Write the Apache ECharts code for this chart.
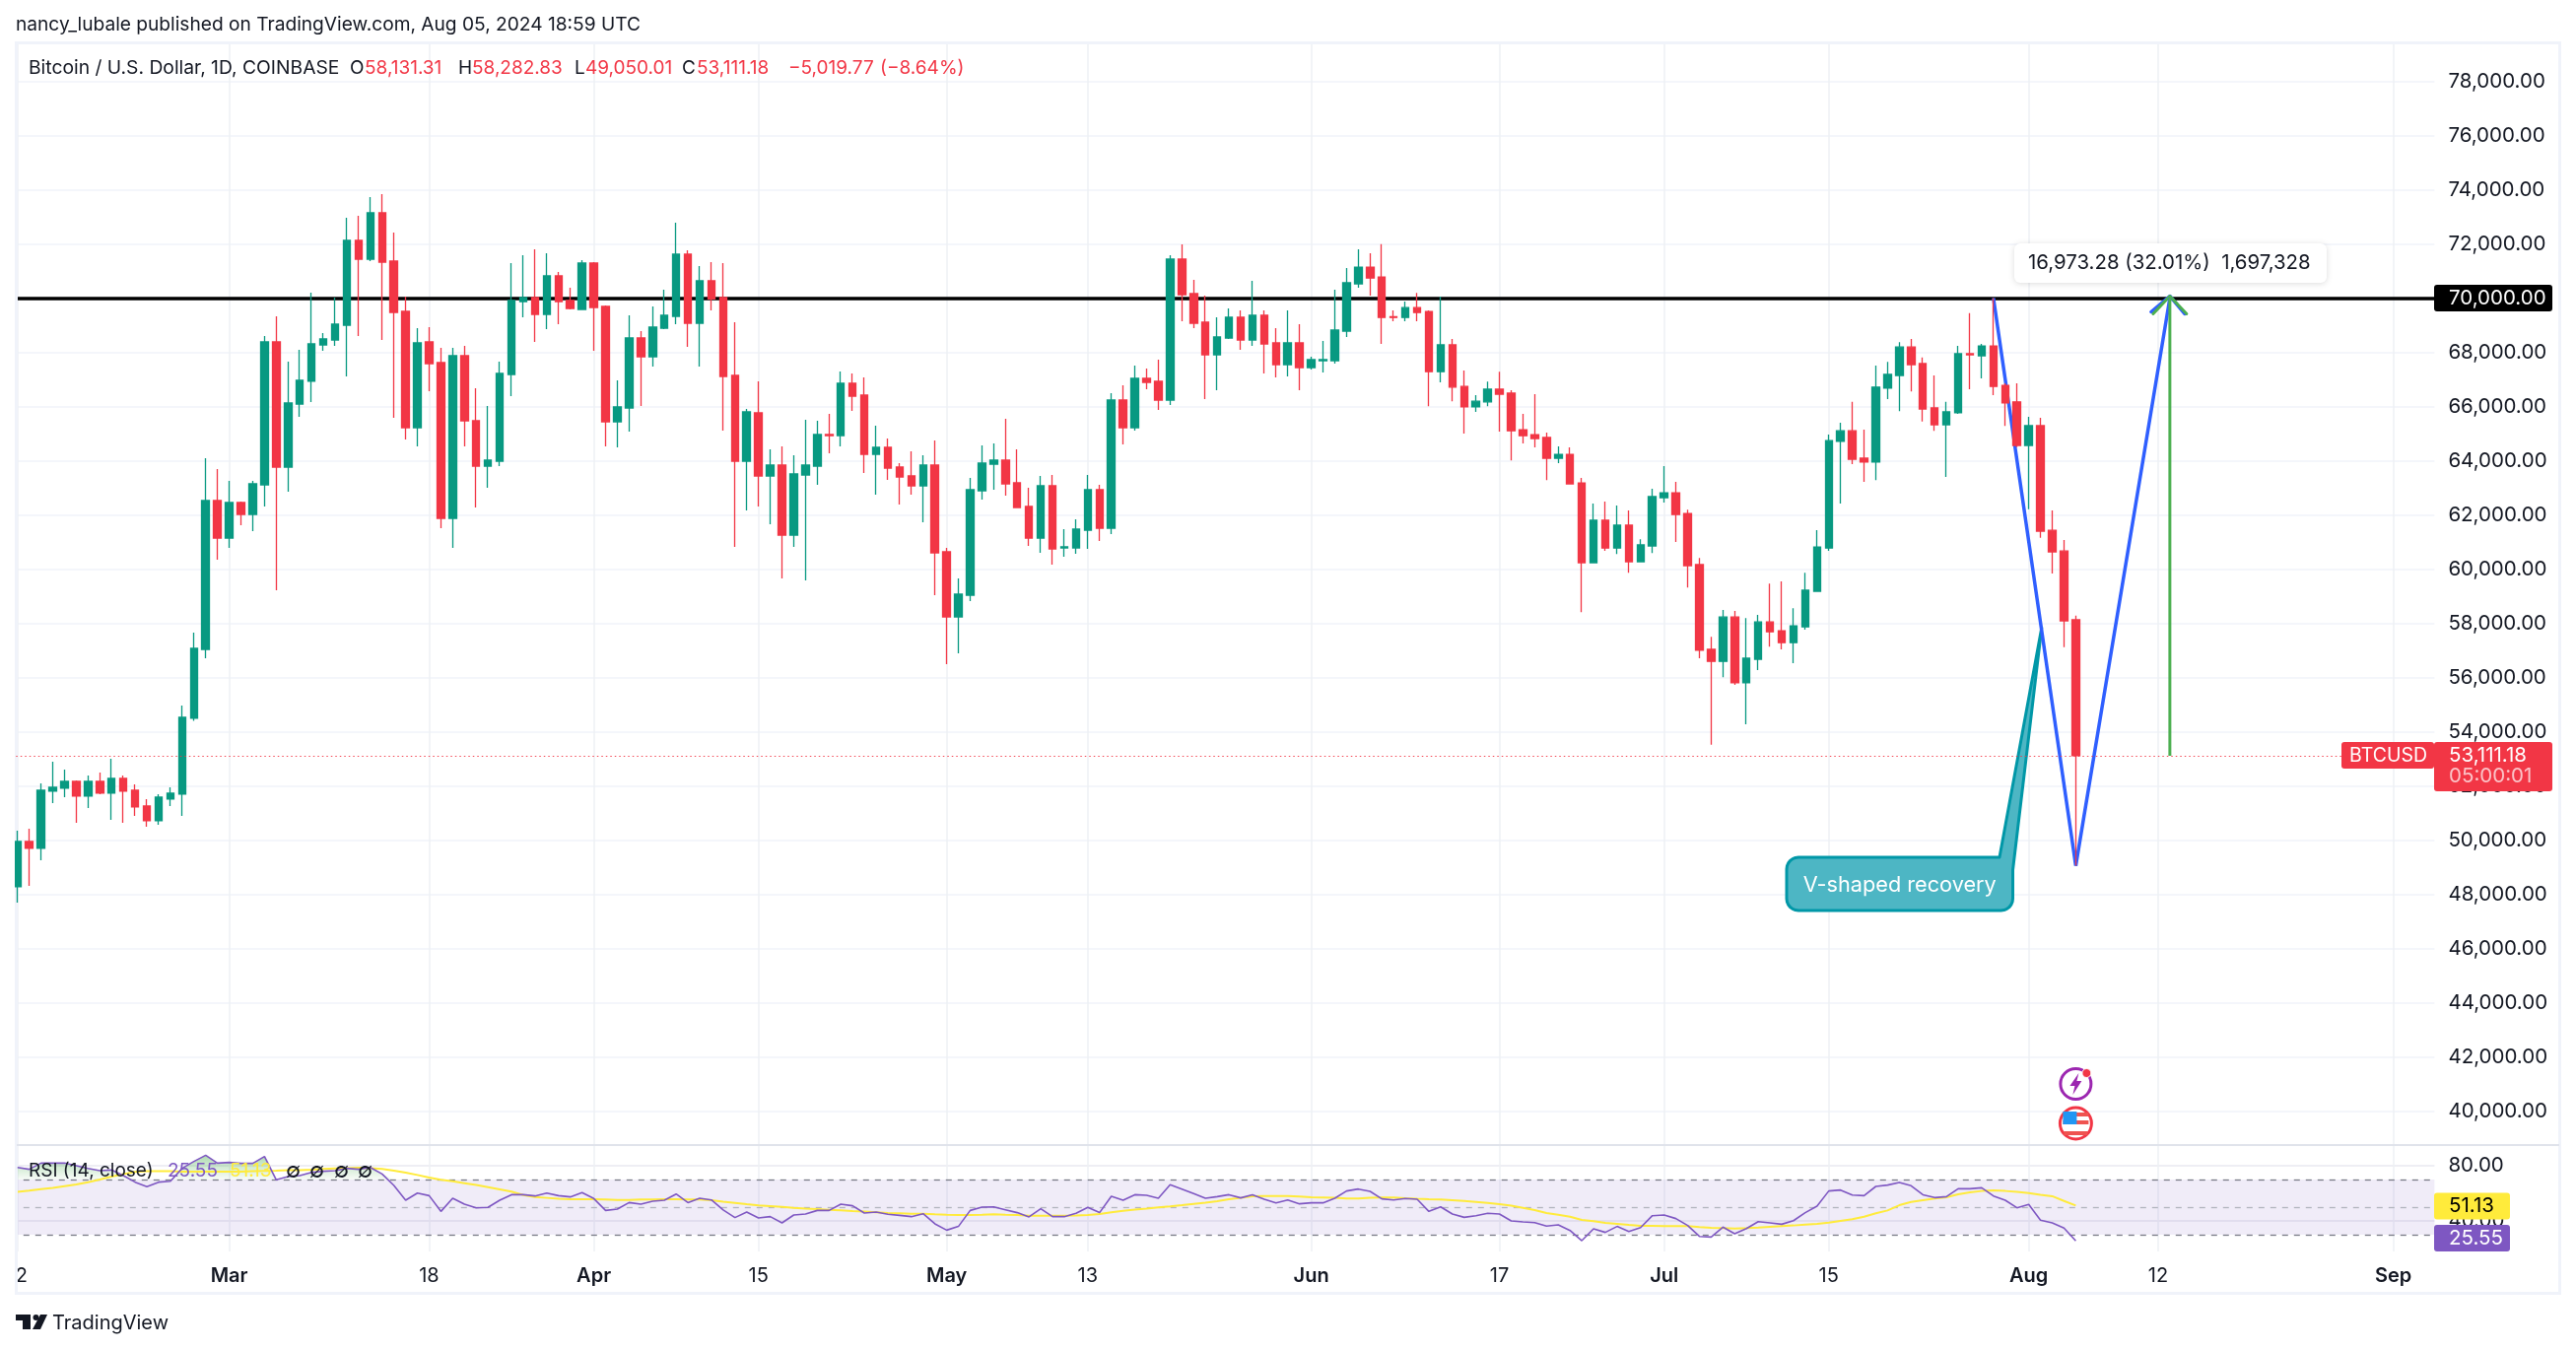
<!DOCTYPE html>
<html><head><meta charset="utf-8">
<style>html,body{margin:0;padding:0;background:#fff}#c{width:2614px;height:1370px}</style>
<script src="https://cdn.jsdelivr.net/npm/echarts@6/dist/echarts.min.js"></script>
</head><body><div id="c"></div>
<script>
const FONT='Inter, "Liberation Sans", sans-serif';
const opens=[48274,49947,49692,51801,51910,52165,51620,52165,51729,52274,51838,51256,50711,51510,51692,54492,57037,62528,61146,62455,62018,63109,68382,63764,66091,66928,68273,68455,69000,72127,71436,73145,71364,69509,65218,68382,67618,61873,67873,65473,63800,63982,67182,69873,70018,69400,70818,69909,69582,71291,69691,65436,65946,68527,67836,68891,69327,71618,69073,70636,70018,67146,63982,65764,63436,63836,61255,63473,63800,64964,64927,66855,66418,64236,64491,63764,63436,63073,63836,60636,58236,59036,62891,63873,64018,63182,62309,61145,63073,60782,60782,61436,62927,61509,66236,65218,67036,66927,66236,71436,70164,69109,67909,68527,69291,68455,69364,68345,67545,68345,67436,67691,67691,68782,70527,71143,70779,69312,69286,69649,69506,67285,68272,66740,65986,66168,66636,66493,65142,64960,64856,64090,64232,63180,60232,61803,60777,61621,60271,60855,62635,62817,62050,60167,57036,56594,58231,55802,56672,58049,57724,57283,57867,59179,60777,64713,65103,64090,63947,66675,67142,68194,67584,65947,65324,65765,67948,67870,68233,66779,66170,64563,65293,61430,60668,58131.31];
const closes=[49947,49692,51838,51947,52165,51620,52165,51729,52274,51801,51220,50711,51583,51729,54528,57073,62528,61146,62455,62018,63146,68382,63764,66128,66964,68309,68491,69036,72127,71436,73145,71327,69473,65218,68346,67582,61873,67873,65473,63800,64018,67218,69909,70018,69400,70818,69873,69618,71291,69655,65436,65982,68527,67836,68927,69364,71618,69073,70636,69970,67109,63982,65800,63436,63836,61255,63509,63836,64964,64927,66855,66382,64236,64491,63727,63400,63073,63836,60600,58236,59073,62927,63909,64018,63145,62273,61145,63073,60745,60818,61473,62927,61509,66236,65218,67036,66891,66236,71436,70127,69073,67909,68564,69291,68455,69364,68309,67545,68345,67436,67727,67727,68818,70564,71143,70740,69286,69286,69649,69467,67285,68272,66714,65986,66194,66636,66454,65103,64921,64817,64090,64232,63141,60232,61803,60777,61621,60271,60894,62674,62817,62011,60128,57003,56594,58231,55802,56711,58049,57685,57283,57906,59218,60816,64739,65103,64051,63947,66714,67181,68194,67545,65908,65324,65804,67948,67909,68233,66740,66129,64563,65293,61398,60635,58087,53111.18];
const lows=[47693,48311,49256,51365,51583,50638,51183,51692,50747,50638,50893,50492,50565,51256,50893,54400,56710,60346,60782,61618,61400,62309,59219,62855,65618,66164,68055,68236,67109,68600,71364,68455,65582,64782,64527,66564,61509,60782,64527,62273,63000,63800,66382,69291,68382,68855,69036,69582,69582,68055,64527,64491,65073,66018,67473,68855,69036,68200,67473,69545,65109,60818,62164,62309,61655,59655,60818,59582,63109,64273,64527,65836,63545,62745,63291,62382,62745,61727,59036,56491,56891,58818,62564,62927,62709,62273,60855,60600,60164,60455,60564,60745,61036,61291,64600,65109,66636,65873,66055,69145,68891,66273,66600,68491,68091,68236,67218,67073,67109,66600,67364,67255,67582,68564,70382,70091,68311,69143,69143,69143,66012,66895,66194,64999,65804,66012,65077,64012,64635,64492,63284,63908,63141,58413,60232,60673,60556,59868,60271,60595,62453,60998,59322,56711,53516,56010,55724,54269,56270,57140,57036,56529,57763,59179,60673,62414,63869,63219,63284,66272,65830,66558,65441,65103,63401,65726,66636,67038,66415,65285,64500,62210,61155,59840,57114,49050.01];
const highs=[50347,50420,52092,52892,52601,52201,52383,52492,53001,52383,52056,51510,51692,51947,54965,57655,64091,63691,63255,62491,63255,68600,69327,67655,68091,70200,68709,70018,72964,73036,73727,73836,72418,70055,68891,68927,68164,68164,68236,66673,66018,67655,71291,71582,71800,71654,70964,70382,71400,71327,69727,66964,69364,68782,69691,70309,72782,71764,71182,71327,71291,69109,65909,66927,64418,64527,64200,65509,65473,65727,67291,67218,67073,65291,64818,63909,64345,64200,64745,60782,59655,63364,64564,64636,65545,64418,63000,63436,63473,61473,61836,63473,63109,66491,66782,67509,67400,67727,71582,71982,70673,70091,69291,69618,69545,70636,69545,68891,69545,69036,67836,68418,70309,71109,71800,71650,71987,69545,69870,70195,69545,70052,68493,67324,66415,66921,67285,66597,65726,66454,65038,64531,64492,63362,62414,62492,62349,62167,61102,62960,63804,63219,62193,60413,57504,58491,58452,58192,58309,59465,59543,58556,59868,61440,64960,65401,66168,65142,67506,67649,68376,68493,67805,67142,66168,68233,69441,68311,70000,66857,66851,65618,65585,62161,61074,58282.83];
const rsi=[78.8,77.4,81.9,81.9,81.9,80,78,76.4,76.9,72.9,68.1,64.8,68.1,68.8,78.1,83.1,87.6,81.9,82.4,81.7,81.7,86.7,69.8,72.1,72.9,75.2,76,76.4,78.1,77.4,78.8,74,65.7,55,60.2,58.3,46.9,56.4,52.1,49.5,49.8,55,59,59,58.1,60.2,58.3,57.4,60.5,56.2,47.6,48.6,53.3,52.1,54.3,55,59.5,53.3,56.4,55.2,47.9,42.4,46.4,42.1,43.1,38.6,44.3,45,47.6,47.6,52.1,51,45.7,46.4,44.8,44,43.1,45.2,37.9,33.3,36,47.6,50,50.2,48.1,46,42.9,48.8,43.1,43.1,45.5,49.8,46,57.9,55,59,58.6,56.4,66.2,63.1,59.8,56.4,57.6,59,56.7,59,55.7,53.1,55.2,52.4,53.1,53.1,56.4,61.7,63.1,61.4,56,55.2,56.2,55.7,46.9,50.2,45,42.6,43.8,45.5,45,40,39.3,38.8,36.2,37.1,33.1,25.7,34.3,31.7,36,32.4,35.2,43.8,44.3,41.7,36.7,28.8,28.3,35.5,30.7,34.5,39.5,38.6,37.6,40.2,46,50.7,61.7,62.4,58.8,58.3,65,66,67.9,65.5,59,56.9,57.6,63.3,63.3,64,58.1,55,49.5,51.9,40.5,38.6,34.8,25.55];
const rsiMa=[61,61.9,63.1,64,65.2,66.4,68.1,70,72.1,74,75.5,76,76,76,75.7,75.7,75.7,75.7,75.7,75.7,76,76.2,76.4,76.7,76.7,77.1,77.6,78.1,78.3,78.6,78.3,77.6,76.4,75,73.3,71.4,69.8,68.8,67.4,66,64.5,62.9,61.2,58.8,57.4,56.7,56,55.7,55.7,55.7,55.5,55.2,55.2,55.5,55.6,55.7,55.7,55.5,55.5,55,54,53.1,52.1,51.2,50.7,50.2,49.5,49,48.6,48.1,47.6,47.1,46.7,46.2,45.7,45.5,45.2,45.2,44.8,44.5,44.3,44.3,44.5,44.8,44.5,44.3,43.8,43.8,43.8,43.8,44,44.3,45,46.2,47.4,48.3,49,49.8,50.5,51.4,52.4,53.3,54.3,55.7,56.7,57.9,58.1,58.1,58.1,57.6,57.1,56.9,56.7,56.2,56.2,56.7,56.9,56.9,56.4,56,55.7,55.5,55,54.5,53.8,53.1,52.1,51,49.5,47.9,45.7,44.5,43.1,40.7,39.8,38.6,37.9,37.1,36.4,36.4,36.2,36.2,36.2,35.5,35,34.8,34.5,34.8,35.2,35.7,36.2,36.7,37.4,37.9,38.8,40,41.2,43.1,45.5,47.6,51.4,53.8,55,56.2,57.1,59.3,60.7,61.7,62.1,61.7,61,60.2,59,57.9,54.5,51.13];
const priceTicks=[78000,76000,74000,72000,70000,68000,66000,64000,62000,60000,58000,56000,54000,52000,50000,48000,46000,44000,42000,40000];
const rsiTicks=[80,40];
const dateTicks={'02-12':'12','03-01':'Mar','03-18':'18','04-01':'Apr','04-15':'15','05-01':'May','05-13':'13','06-01':'Jun','06-17':'17','07-01':'Jul','07-15':'15','08-01':'Aug','08-12':'12','09-01':'Sep'};
const monthLabels=['Mar','Apr','May','Jun','Jul','Aug','Sep'];
const vPathDays=[168,175,183], vPathPrices=[70000,49050.01,70000];
const targetDay=183, targetFrom=53111.18, targetTo=70000;
const resistance=70000, lastPrice=53111.18, lastDay=175;

const startUTC=Date.UTC(2024,1,12);
const categories=[];
for(let i=0;i<206;i++){const d=new Date(startUTC+i*864e5);categories.push(String(d.getUTCMonth()+1).padStart(2,'0')+'-'+String(d.getUTCDate()).padStart(2,'0'));}
const isTick=(i,v)=>dateTicks[v]!==undefined;
const candleData=opens.map((o,i)=>[o,closes[i],lows[i],highs[i]]);
const overbought=rsi.map(v=>Math.max(v,70));

const GL='#f0f3fa',INK='#131722',RED='#f23645',GREEN='#089981',PUR='#7e57c2',YEL='#ffeb3b';
const left=11.8,width=206*11.935;
const chart=echarts.init(document.getElementById('c'),null,{renderer:'canvas'});
const vSplit={show:true,interval:isTick,alignWithLabel:true,lineStyle:{color:'#eef0f5',width:1.5}};
chart.setOption({
 animation:false,backgroundColor:'#fff',textStyle:{fontFamily:FONT},
 grid:[{left,width,top:43,height:1119},{left,width,top:1162,height:108}],
 xAxis:[
  {type:'category',gridIndex:0,data:categories,axisLine:{show:false},axisTick:{show:false,interval:isTick,alignWithLabel:true},axisLabel:{show:false,interval:isTick},splitLine:vSplit},
  {type:'category',gridIndex:1,data:categories,axisLine:{show:false},axisTick:{show:false,interval:isTick,alignWithLabel:true},splitLine:vSplit,
   axisLabel:{show:true,interval:isTick,margin:15,fontFamily:FONT,fontSize:20,color:INK,
    formatter:v=>{const t=dateTicks[v]||'';return monthLabels.includes(t)?'{m|'+t+'}':t;},
    rich:{m:{fontFamily:FONT,fontSize:20,fontWeight:600,color:INK}}}}
 ],
 yAxis:[
  {type:'value',gridIndex:0,position:'right',min:38745.5,max:79436,axisLine:{show:false},
   axisTick:{show:false,customValues:priceTicks},
   axisLabel:{customValues:priceTicks,margin:14,fontFamily:FONT,fontSize:20.5,color:INK,padding:[0,0,4,0],formatter:v=>v.toLocaleString('en-US',{minimumFractionDigits:2})},
   splitLine:{show:true,lineStyle:{color:GL,width:1.5}}},
  {type:'value',gridIndex:1,position:'right',min:17.86,max:95,axisLine:{show:false},
   axisTick:{show:false,customValues:rsiTicks},
   axisLabel:{customValues:rsiTicks,margin:14,fontFamily:FONT,fontSize:20.5,color:INK,formatter:v=>v.toFixed(2)},
   splitLine:{show:true,lineStyle:{color:'#e8e8f0',width:1.5}}}
 ],
 series:[
  {type:'candlestick',name:'BTCUSD',xAxisIndex:0,yAxisIndex:0,z:4,barWidth:8,data:candleData,
   itemStyle:{color:GREEN,color0:RED,borderColor:GREEN,borderColor0:RED,borderWidth:1.3},
   markLine:{z:1,silent:true,symbol:'none',label:{show:false},animation:false,
     data:[{yAxis:resistance,lineStyle:{color:'#000',width:3.5,type:'solid'}}]}},
  {type:'line',name:'dotted',xAxisIndex:0,yAxisIndex:0,z:5,data:[],
   markLine:{z:5,silent:true,symbol:'none',label:{show:false},animation:false,
     data:[{yAxis:lastPrice,lineStyle:{color:RED,width:1,type:[1.5,3],opacity:0.9}}]}},
  {type:'line',name:'V',xAxisIndex:0,yAxisIndex:0,z:3,symbol:'none',lineStyle:{color:'#2f5fff',width:3.5},
   data:vPathDays.map((d,i)=>[d,vPathPrices[i]])},
  {type:'line',name:'target',xAxisIndex:0,yAxisIndex:0,z:3,symbol:'none',lineStyle:{color:'#4caf50',width:3},
   data:[[targetDay,targetFrom],[targetDay,targetTo]]},
  {type:'line',name:'overbought',xAxisIndex:1,yAxisIndex:1,z:2,symbol:'none',lineStyle:{width:0,opacity:0},data:overbought,
   areaStyle:{origin:70,opacity:1,color:{type:'linear',x:0,y:0,x2:0,y2:1,colorStops:[{offset:0,color:'rgba(76,175,80,0.45)'},{offset:1,color:'rgba(76,175,80,0.04)'}]}}},
  {type:'line',name:'RSI',xAxisIndex:1,yAxisIndex:1,z:4,symbol:'none',lineStyle:{color:PUR,width:1.6},data:rsi,
   markArea:{silent:true,z:1,itemStyle:{color:'rgba(126,87,194,0.115)'},data:[[{yAxis:30},{yAxis:70}]]},
   markLine:{z:2,silent:true,symbol:'none',label:{show:false},animation:false,data:[
     {yAxis:70,lineStyle:{color:'#787b86',width:1.3,type:[6,6]}},
     {yAxis:50,lineStyle:{color:'#b2b5be',width:1.3,type:[6,6]}},
     {yAxis:30,lineStyle:{color:'#787b86',width:1.3,type:[6,6]}}]}},
  {type:'line',name:'RSI MA',xAxisIndex:1,yAxisIndex:1,z:3,symbol:'none',lineStyle:{color:YEL,width:2},data:rsiMa}
 ]
});

const X=d=>chart.convertToPixel({xAxisIndex:0},d);
const Y=p=>chart.convertToPixel({yAxisIndex:0},p);
const YR=v=>chart.convertToPixel({yAxisIndex:1},v);
const txt=(x,y,t,o={})=>({type:'text',z:o.z||60,silent:true,style:{x,y,text:t,fill:o.c||INK,font:(o.w||400)+' '+(o.s||20)+'px '+FONT,textAlign:o.a||'left',textVerticalAlign:'middle'}});
const box=(x,y,w,h,c,r=3,o={})=>({type:'rect',z:o.z||59,silent:true,shape:{x,y,width:w,height:h,r},style:{fill:c,stroke:o.st||null,lineWidth:o.lw||0,shadowBlur:o.sb||0,shadowColor:o.sc||'transparent',shadowOffsetY:o.sy||0}});
const line=(pts,c,lw,z=3)=>({type:'polyline',z,silent:true,shape:{points:pts},style:{stroke:c,lineWidth:lw,fill:null,lineCap:'round',lineJoin:'round'}});
const disc=(x,y,r,fill,st,lw,z=40)=>({type:'circle',z,silent:true,shape:{cx:x,cy:y,r},style:{fill,stroke:st||null,lineWidth:lw||0}});
const poly=(pts,fill,st,lw,z=40)=>({type:'polygon',z,silent:true,shape:{points:pts},style:{fill,stroke:st||null,lineWidth:lw||0,lineJoin:'round'}});

function callout(){
 const x0=1813,x1=2042.5,y0=870,y1=924,r=12,tip=[X(172)+1.2,Y(57840)];
 const arc=(cx,cy,a0,a1)=>{const o=[];for(let k=0;k<=6;k++){const a=a0+(a1-a0)*k/6;o.push([cx+r*Math.cos(a),cy+r*Math.sin(a)]);}return o;};
 return [[x0+r,y0],[2029,y0],tip,[x1,883],...arc(x1-r,y1-r,0,Math.PI/2),...arc(x0+r,y1-r,Math.PI/2,Math.PI),...arc(x0+r,y0+r,Math.PI,1.5*Math.PI)];
}
const tx=X(targetDay),ty=Y(targetTo),ex=X(lastDay);
const flagCY=1140,evCY=1100;
const els=[
 // left margin above everything; frame sits under the candles
 box(0,0,15,1370,'#fff',0,{z:55}),
 {type:'rect',z:3.6,silent:true,shape:{x:16.5,y:43.5,width:2581,height:1269},style:{fill:null,stroke:GL,lineWidth:3}},
 {type:'line',z:56,silent:true,shape:{x1:17,y1:1162,x2:2597,y2:1162},style:{stroke:'#e0e3eb',lineWidth:2}},
 // header
 txt(16,25,'nancy_lubale published on TradingView.com, Aug 05, 2024 18:59 UTC',{s:19.15}),
 txt(29,69,'Bitcoin / U.S. Dollar, 1D, COINBASE',{s:19.3}),
 txt(355,69,'O',{s:19}),txt(370,69,'58,131.31',{s:19,c:RED}),
 txt(465,69,'H',{s:19}),txt(479,69,'58,282.83',{s:19,c:RED}),
 txt(583,69,'L',{s:19}),txt(594,69,'49,050.01',{s:19,c:RED}),
 txt(692,69,'C',{s:19}),txt(707,69,'53,111.18',{s:19,c:RED}),
 txt(800,69,'\u22125,019.77',{s:19,c:RED}),txt(893,69,'(\u22128.64%)',{s:19,c:RED}),
 // RSI legend
 txt(29,1188,'RSI (14, close)',{s:19}),
 txt(170,1188,'25.55',{s:19,c:PUR}),txt(233,1188,'51.13',{s:19,c:YEL}),
 txt(290,1188,'\u2205',{s:22}),txt(314,1188,'\u2205',{s:22}),txt(339,1188,'\u2205',{s:22}),txt(363,1188,'\u2205',{s:22}),
 // arrow heads
 line([[tx-19,ty+14],[tx,ty-2],[tx+15,ty+16]],'#2f5fff',3.5,3),
 line([[tx-17,ty+16],[tx,ty-2],[tx+17,ty+16]],'#4caf50',3,3),
 // measure label
 box(2044,247,317,40,'#fff',6,{z:30,sb:6,sc:'rgba(0,0,0,0.14)',sy:1}),
 txt(2058,267,'16,973.28 (32.01%)  1,697,328',{s:20.4,z:31}),
 // callout
 poly(callout(),'#4db6c4','#0097a7',3,2.5),
 txt((1813+2042.5)/2,898,'V-shaped recovery',{s:21.7,c:'#fff',a:'center',z:31}),
 // axis tags
 box(2470,289,120,27,'#000',3),txt(2485,302.5,'70,000.00',{s:20.5,c:'#fff'}),
 box(2376,753,94,27,RED,3),txt(2384,767,'BTCUSD',{s:19.5,c:'#fff'}),
 box(2470,753,120,50,RED,3),txt(2485,767,'53,111.18',{s:20.5,c:'#fff'}),txt(2485,788,'05:00:01',{s:20.5,c:'rgba(255,255,255,0.7)'}),
 box(2470,YR(51.13)-13,77,27,YEL,3),txt(2485,YR(51.13)+.5,'51.13',{s:20.5,c:'#000'}),
 box(2470,1243,77,27,PUR,3),txt(2485,1257,'25.55',{s:20.5,c:'#fff'}),
 // event icons
 disc(ex,evCY,15.5,'#fff','#9c27b0',3),
 poly([[ex+3,evCY-11],[ex-6,evCY+2],[ex-1,evCY+2],[ex-3,evCY+11],[ex+6,evCY-3],[ex+1,evCY-3]],'#9c27b0'),
 disc(ex+11,evCY-11,4.5,RED,'#fff',1,41),
 disc(ex,flagCY,16,'#fff',RED,3),
 box(ex-13,flagCY-11,26,4,'#ef5350',0,{z:41}),box(ex-13,flagCY-3,26,4,'#ef5350',0,{z:41}),box(ex-12,flagCY+8,24,4,'#ef5350',0,{z:41}),
 box(ex-13,flagCY-12,14,13,'#2196f3',0,{z:42}),
 // logo
 poly([[16,1334],[31,1334],[31,1349],[23,1349],[23,1340],[16,1340]],INK,null,0,56),
 disc(36.5,1337,3,INK,null,0),
 poly([[41,1334],[48,1334],[41,1349],[33,1349]],INK),
 txt(53,1343,'TradingView',{s:20})
];
chart.setOption({graphic:{elements:els}});
</script></body></html>
